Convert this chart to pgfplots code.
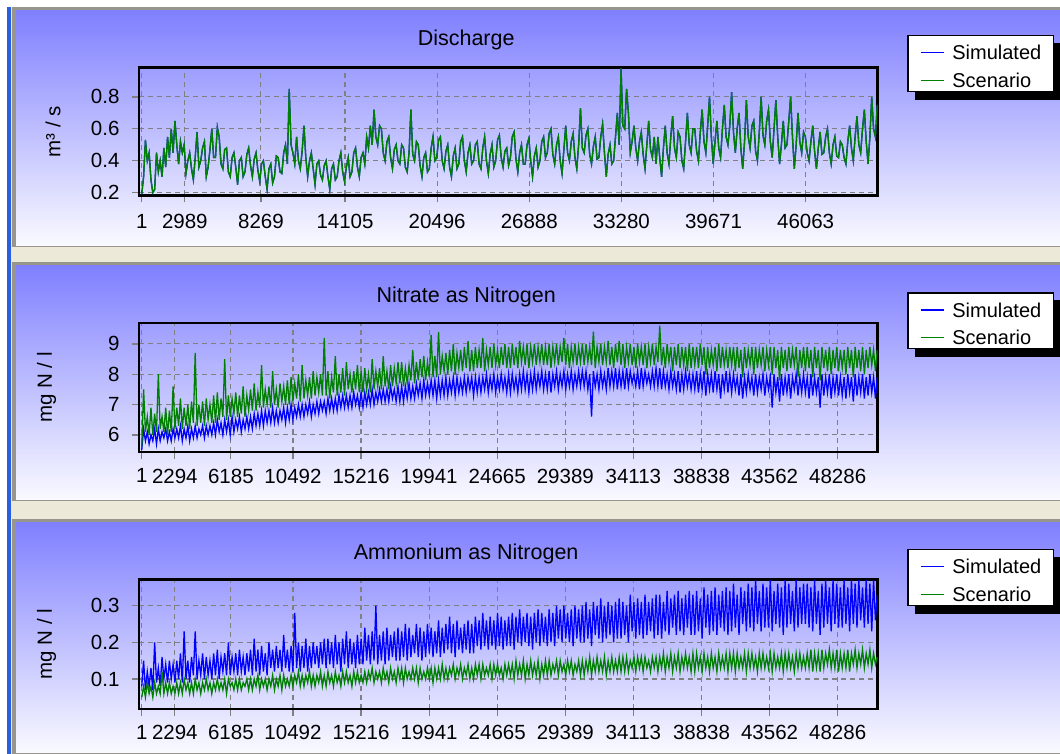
\documentclass[border=0pt]{standalone}
\usepackage{pgfplots}
\usepackage{pgfplotstable}
\usepackage{fontspec}
\setmainfont{Liberation Sans}
\pgfplotsset{compat=1.18}
\definecolor{ptop}{RGB}{128,128,255}
\definecolor{pbot}{RGB}{250,250,255}
\definecolor{sep}{RGB}{236,233,216}
\definecolor{bord}{RGB}{150,150,140}
\definecolor{winblue}{RGB}{40,95,225}
\definecolor{gridc}{RGB}{128,128,128}
\definecolor{simc}{RGB}{0,0,255}
\definecolor{scnc}{RGB}{0,128,0}
\newcommand{\fs}{\fontsize{20.5bp}{24bp}\selectfont}
\newcommand{\fl}{\fontsize{20bp}{24bp}\selectfont}
\newcommand{\ft}{\fontsize{21.5bp}{25bp}\selectfont}

\pgfplotstableread[row sep=\\]{
q\\
0.19\\0.30\\0.53\\0.40\\0.45\\0.28\\0.20\\0.22\\0.45\\0.33\\0.40\\0.30\\0.48\\0.36\\0.55\\0.42\\0.60\\0.45\\0.65\\0.50\\
0.38\\0.52\\0.45\\0.50\\0.32\\0.40\\0.45\\0.35\\0.28\\0.42\\0.58\\0.36\\0.40\\0.48\\0.52\\0.30\\0.36\\0.47\\0.60\\0.42\\
0.42\\0.61\\0.55\\0.38\\0.35\\0.47\\0.48\\0.33\\0.30\\0.42\\0.45\\0.36\\0.25\\0.40\\0.42\\0.30\\0.33\\0.44\\0.48\\0.37\\
0.30\\0.41\\0.45\\0.34\\0.27\\0.38\\0.40\\0.30\\0.22\\0.35\\0.38\\0.26\\0.30\\0.43\\0.42\\0.33\\0.32\\0.45\\0.50\\0.38\\
0.85\\0.50\\0.45\\0.38\\0.55\\0.40\\0.35\\0.46\\0.62\\0.42\\0.30\\0.40\\0.45\\0.35\\0.25\\0.38\\0.40\\0.31\\0.28\\0.37\\
0.40\\0.30\\0.22\\0.35\\0.38\\0.28\\0.30\\0.40\\0.45\\0.33\\0.27\\0.36\\0.42\\0.30\\0.33\\0.45\\0.48\\0.36\\0.30\\0.42\\
0.45\\0.38\\0.55\\0.48\\0.62\\0.50\\0.72\\0.55\\0.50\\0.62\\0.60\\0.45\\0.40\\0.52\\0.55\\0.42\\0.35\\0.47\\0.50\\0.40\\
0.38\\0.50\\0.48\\0.36\\0.33\\0.45\\0.72\\0.44\\0.40\\0.52\\0.50\\0.37\\0.30\\0.42\\0.45\\0.33\\0.35\\0.48\\0.55\\0.40\\
0.42\\0.53\\0.55\\0.40\\0.35\\0.46\\0.50\\0.36\\0.30\\0.43\\0.48\\0.35\\0.38\\0.52\\0.55\\0.40\\0.33\\0.45\\0.50\\0.38\\
0.40\\0.50\\0.52\\0.38\\0.35\\0.48\\0.55\\0.40\\0.32\\0.44\\0.50\\0.36\\0.40\\0.53\\0.56\\0.42\\0.36\\0.46\\0.48\\0.37\\
0.42\\0.55\\0.58\\0.41\\0.33\\0.45\\0.50\\0.38\\0.38\\0.50\\0.54\\0.40\\0.30\\0.43\\0.48\\0.36\\0.40\\0.52\\0.55\\0.42\\
0.45\\0.57\\0.60\\0.44\\0.38\\0.50\\0.55\\0.40\\0.32\\0.47\\0.62\\0.45\\0.40\\0.52\\0.57\\0.42\\0.35\\0.50\\0.73\\0.48\\
0.45\\0.56\\0.60\\0.44\\0.38\\0.49\\0.55\\0.41\\0.42\\0.55\\0.63\\0.45\\0.30\\0.44\\0.50\\0.38\\0.40\\0.55\\0.70\\0.50\\
0.98\\0.62\\0.60\\0.85\\0.70\\0.45\\0.52\\0.62\\0.48\\0.40\\0.52\\0.58\\0.44\\0.35\\0.50\\0.65\\0.47\\0.42\\0.55\\0.38\\
0.55\\0.42\\0.30\\0.48\\0.62\\0.45\\0.38\\0.55\\0.68\\0.48\\0.42\\0.58\\0.55\\0.40\\0.35\\0.52\\0.70\\0.50\\0.45\\0.60\\
0.60\\0.46\\0.40\\0.58\\0.72\\0.52\\0.45\\0.62\\0.80\\0.55\\0.38\\0.52\\0.65\\0.48\\0.42\\0.60\\0.75\\0.55\\0.50\\0.62\\
0.83\\0.58\\0.45\\0.60\\0.70\\0.48\\0.35\\0.52\\0.78\\0.55\\0.48\\0.62\\0.65\\0.46\\0.40\\0.58\\0.80\\0.56\\0.50\\0.65\\
0.72\\0.52\\0.42\\0.60\\0.78\\0.55\\0.38\\0.50\\0.65\\0.48\\0.50\\0.65\\0.80\\0.55\\0.35\\0.50\\0.70\\0.52\\0.45\\0.58\\
0.55\\0.45\\0.40\\0.52\\0.62\\0.46\\0.35\\0.48\\0.58\\0.44\\0.45\\0.55\\0.60\\0.45\\0.38\\0.50\\0.55\\0.43\\0.42\\0.52\\
0.50\\0.42\\0.38\\0.52\\0.62\\0.48\\0.40\\0.55\\0.68\\0.50\\0.45\\0.60\\0.72\\0.52\\0.38\\0.55\\0.80\\0.60\\0.55\\0.75\\
}\discharge

\pgfplotstableread[row sep=\\]{
sim scen\\
5.5 5.6\\6.2 7.5\\5.8 6.1\\6.1 6.6\\5.7 6.0\\6.0 6.9\\5.8 6.0\\6.2 6.7\\5.7 6.1\\6.2 8.0\\5.8 6.2\\6.1 6.6\\5.9 6.1\\6.2 6.9\\5.8 6.0\\6.1 6.8\\5.8 6.1\\6.2 7.6\\5.9 6.2\\6.2 6.9\\
5.9 6.3\\6.3 7.2\\5.8 6.2\\6.2 6.9\\5.9 6.3\\6.3 7.0\\5.8 6.2\\6.2 7.1\\5.9 6.4\\6.3 8.7\\5.9 6.3\\6.2 7.0\\6.0 6.4\\6.3 7.1\\5.9 6.3\\6.3 7.2\\6.0 6.5\\6.3 7.0\\6.0 6.4\\6.4 7.3\\
6.0 6.4\\6.5 7.4\\6.1 6.5\\6.4 7.2\\6.0 6.6\\6.5 8.5\\6.1 6.5\\6.5 7.3\\6.0 6.6\\6.6 7.2\\6.1 6.7\\6.5 7.4\\6.2 6.6\\6.6 7.3\\6.1 6.7\\6.5 7.6\\6.2 6.6\\6.6 7.3\\6.2 6.8\\6.6 7.5\\
6.2 6.8\\6.7 7.7\\6.3 6.8\\6.7 7.4\\6.3 6.9\\6.8 8.3\\6.3 6.9\\6.8 7.5\\6.4 7.0\\6.8 7.6\\6.4 6.9\\6.9 8.1\\6.4 7.0\\6.8 7.5\\6.4 6.9\\6.8 7.7\\6.5 7.1\\6.9 7.6\\6.4 7.0\\6.9 7.8\\
6.5 7.0\\7.0 7.9\\6.5 7.1\\6.9 7.7\\6.6 7.2\\7.0 8.0\\6.6 7.1\\7.0 8.3\\6.6 7.2\\7.0 7.8\\6.7 7.3\\7.1 7.9\\6.6 7.2\\7.0 8.1\\6.7 7.3\\7.1 7.9\\6.7 7.4\\7.1 8.0\\6.8 7.3\\7.1 9.2\\
6.7 7.3\\7.2 8.1\\6.8 7.2\\7.2 7.9\\6.8 7.4\\7.2 8.6\\6.8 7.3\\7.3 8.0\\6.9 7.4\\7.3 8.2\\6.9 7.3\\7.3 8.4\\6.9 7.5\\7.3 8.0\\6.9 7.4\\7.4 8.1\\7.0 7.5\\7.3 8.3\\6.9 7.4\\7.4 8.1\\
6.9 7.4\\7.4 8.2\\7.0 7.5\\7.4 8.0\\7.0 7.4\\7.5 8.5\\7.0 7.5\\7.4 8.1\\7.1 7.6\\7.5 8.2\\7.1 7.5\\7.5 8.6\\7.1 7.6\\7.5 8.1\\7.1 7.5\\7.6 8.3\\7.2 7.6\\7.5 8.2\\7.1 7.7\\7.6 8.4\\
7.1 7.7\\7.6 8.4\\7.1 7.6\\7.6 8.2\\7.2 7.7\\7.7 8.3\\7.2 7.8\\7.6 8.8\\7.2 7.7\\7.7 8.4\\7.3 7.8\\7.7 8.5\\7.2 7.9\\7.8 8.6\\7.3 7.8\\7.7 8.4\\7.3 7.9\\7.8 9.3\\7.3 7.9\\7.8 8.6\\
7.2 7.9\\7.8 9.4\\7.3 8.0\\7.8 8.6\\7.3 8.1\\7.9 8.7\\7.3 8.0\\7.8 8.8\\7.4 8.1\\7.9 9.0\\7.3 8.0\\7.9 8.7\\7.4 8.2\\7.8 8.8\\7.4 8.1\\7.9 8.9\\7.4 8.2\\7.9 9.1\\7.5 8.1\\7.9 8.8\\
7.3 8.1\\7.9 8.9\\7.4 8.2\\7.9 8.8\\7.4 8.2\\7.9 9.2\\7.5 8.1\\8.0 8.8\\7.4 8.3\\7.9 8.9\\7.5 8.2\\8.0 9.0\\7.4 8.3\\7.9 8.8\\7.5 8.2\\8.0 8.9\\7.5 8.3\\7.9 9.0\\7.4 8.2\\8.0 8.9\\
7.4 8.2\\8.0 9.0\\7.5 8.3\\7.9 8.9\\7.4 8.2\\8.0 9.1\\7.5 8.4\\8.1 8.9\\7.5 8.3\\8.0 9.0\\7.4 8.2\\8.0 8.9\\7.5 8.4\\8.1 9.0\\7.5 8.3\\8.0 8.9\\7.6 8.4\\8.1 9.0\\7.5 8.3\\8.0 8.9\\
7.5 8.3\\8.1 9.0\\7.4 8.2\\8.0 8.9\\7.6 8.4\\8.1 9.0\\7.5 8.3\\8.0 8.9\\7.6 8.4\\8.1 9.2\\7.5 8.3\\8.0 9.0\\7.6 8.2\\8.1 8.9\\7.5 8.4\\8.0 9.0\\7.6 8.3\\8.1 8.9\\7.6 8.4\\8.1 9.0\\
7.6 8.3\\8.1 9.0\\7.5 8.4\\8.0 8.9\\6.6 8.3\\8.1 9.4\\7.6 8.2\\8.0 8.9\\7.5 8.4\\8.1 9.0\\7.6 8.3\\8.0 8.9\\7.5 8.4\\8.2 9.1\\7.6 8.3\\8.1 8.9\\7.6 8.2\\8.2 9.0\\7.5 8.4\\8.1 9.1\\
7.6 8.3\\8.1 9.0\\7.5 8.2\\8.2 8.9\\7.6 8.4\\8.1 9.0\\7.7 8.3\\8.0 8.9\\7.6 8.2\\8.1 9.0\\7.5 8.4\\8.2 8.9\\7.6 8.3\\8.1 9.0\\7.7 8.2\\8.0 8.9\\7.6 8.4\\8.1 9.0\\7.6 8.3\\8.2 8.9\\
7.6 8.4\\8.2 9.6\\7.5 8.3\\8.1 8.9\\7.6 8.2\\8.0 9.0\\7.5 8.4\\8.1 8.9\\7.6 8.1\\8.0 8.9\\7.5 8.3\\8.1 9.0\\7.4 8.2\\8.0 8.9\\7.5 8.3\\8.1 8.9\\7.6 8.1\\8.0 9.0\\7.5 8.2\\8.0 8.9\\
7.5 8.3\\8.1 8.9\\7.4 8.2\\8.0 9.0\\7.5 8.3\\8.1 8.9\\7.3 8.0\\8.0 8.9\\7.5 8.2\\8.0 8.8\\7.4 8.3\\8.1 8.9\\7.5 8.1\\8.0 9.0\\7.2 8.2\\8.0 8.9\\7.5 8.3\\8.1 8.8\\7.4 8.2\\8.0 8.9\\
7.4 8.3\\8.0 8.9\\7.5 8.1\\7.9 8.9\\7.3 8.2\\8.0 8.8\\7.2 7.9\\7.9 8.9\\7.4 8.2\\8.0 8.8\\7.5 8.3\\7.9 8.9\\7.3 8.0\\8.0 8.9\\7.4 8.2\\7.9 8.8\\7.5 8.3\\8.0 8.9\\7.3 8.1\\7.9 8.8\\
7.5 8.3\\7.9 8.9\\6.9 8.0\\8.0 8.9\\7.4 8.2\\7.9 8.8\\7.1 7.8\\8.0 8.9\\7.3 8.2\\7.9 8.8\\7.4 8.1\\8.0 8.9\\7.2 8.2\\7.9 8.8\\7.5 8.3\\8.0 8.9\\7.3 7.9\\7.9 8.8\\7.4 8.2\\8.0 8.9\\
7.4 8.1\\7.9 8.9\\7.2 8.2\\8.0 8.8\\7.3 7.9\\7.9 8.9\\7.4 8.2\\7.9 8.8\\6.9 7.8\\8.0 8.9\\7.3 8.2\\7.9 8.8\\7.4 8.1\\8.0 8.9\\7.2 8.0\\7.9 8.8\\7.4 8.2\\8.0 8.9\\7.3 8.1\\7.9 8.8\\
7.3 8.2\\7.9 8.8\\7.2 8.0\\8.0 8.9\\7.4 8.2\\7.9 8.8\\7.1 7.9\\8.0 8.9\\7.3 8.2\\7.9 8.8\\7.4 8.1\\8.0 8.9\\7.2 8.0\\7.9 8.8\\7.3 8.2\\8.0 8.9\\7.4 8.3\\7.9 8.8\\7.2 8.1\\7.9 8.8\\
}\nitrate

\pgfplotstableread[row sep=\\]{
sim scen\\
0.08 0.05\\0.15 0.08\\0.07 0.05\\0.12 0.09\\0.08 0.06\\0.13 0.08\\0.07 0.05\\0.20 0.09\\0.09 0.06\\0.13 0.08\\0.08 0.06\\0.16 0.12\\0.10 0.06\\0.14 0.09\\0.09 0.06\\0.15 0.09\\0.10 0.06\\0.14 0.08\\0.09 0.06\\0.15 0.09\\
0.10 0.06\\0.17 0.09\\0.09 0.06\\0.23 0.10\\0.10 0.07\\0.15 0.09\\0.09 0.06\\0.16 0.09\\0.11 0.06\\0.23 0.10\\0.10 0.07\\0.15 0.09\\0.11 0.06\\0.17 0.09\\0.10 0.07\\0.16 0.10\\0.11 0.07\\0.15 0.09\\0.10 0.06\\0.17 0.09\\
0.11 0.07\\0.18 0.10\\0.10 0.07\\0.16 0.09\\0.12 0.07\\0.17 0.10\\0.11 0.06\\0.20 0.10\\0.11 0.08\\0.16 0.09\\0.12 0.07\\0.17 0.10\\0.11 0.07\\0.18 0.10\\0.12 0.07\\0.16 0.09\\0.11 0.08\\0.17 0.10\\0.12 0.07\\0.18 0.10\\
0.11 0.07\\0.21 0.10\\0.12 0.08\\0.18 0.11\\0.11 0.07\\0.19 0.10\\0.12 0.08\\0.17 0.10\\0.11 0.07\\0.20 0.10\\0.13 0.08\\0.18 0.11\\0.12 0.07\\0.19 0.10\\0.13 0.08\\0.18 0.11\\0.12 0.07\\0.22 0.11\\0.13 0.08\\0.18 0.10\\
0.12 0.08\\0.19 0.11\\0.12 0.08\\0.28 0.11\\0.13 0.09\\0.20 0.12\\0.12 0.08\\0.19 0.11\\0.13 0.08\\0.21 0.11\\0.12 0.09\\0.19 0.12\\0.13 0.08\\0.20 0.11\\0.14 0.08\\0.19 0.11\\0.13 0.09\\0.20 0.12\\0.14 0.08\\0.21 0.11\\
0.13 0.08\\0.21 0.12\\0.14 0.09\\0.20 0.11\\0.13 0.08\\0.22 0.12\\0.14 0.09\\0.20 0.11\\0.12 0.08\\0.21 0.12\\0.14 0.09\\0.23 0.12\\0.13 0.09\\0.21 0.11\\0.14 0.08\\0.20 0.12\\0.13 0.09\\0.22 0.12\\0.14 0.09\\0.21 0.11\\
0.14 0.09\\0.24 0.12\\0.15 0.09\\0.22 0.12\\0.14 0.10\\0.23 0.13\\0.15 0.09\\0.30 0.12\\0.14 0.10\\0.22 0.12\\0.15 0.09\\0.23 0.13\\0.14 0.10\\0.24 0.12\\0.15 0.09\\0.22 0.13\\0.16 0.10\\0.23 0.12\\0.15 0.09\\0.24 0.13\\
0.15 0.10\\0.23 0.13\\0.16 0.09\\0.25 0.13\\0.15 0.10\\0.24 0.12\\0.16 0.10\\0.22 0.13\\0.17 0.10\\0.25 0.13\\0.16 0.09\\0.24 0.13\\0.15 0.10\\0.23 0.12\\0.16 0.10\\0.25 0.13\\0.17 0.10\\0.24 0.13\\0.16 0.09\\0.23 0.13\\
0.17 0.10\\0.26 0.13\\0.16 0.10\\0.24 0.14\\0.17 0.10\\0.25 0.13\\0.18 0.10\\0.27 0.13\\0.17 0.11\\0.25 0.14\\0.16 0.10\\0.26 0.13\\0.18 0.11\\0.24 0.14\\0.17 0.10\\0.25 0.13\\0.18 0.11\\0.26 0.14\\0.17 0.10\\0.25 0.13\\
0.17 0.10\\0.27 0.14\\0.19 0.11\\0.26 0.14\\0.18 0.10\\0.28 0.14\\0.19 0.11\\0.26 0.13\\0.18 0.11\\0.27 0.14\\0.19 0.10\\0.26 0.14\\0.18 0.11\\0.28 0.14\\0.19 0.11\\0.27 0.13\\0.18 0.10\\0.26 0.14\\0.19 0.11\\0.27 0.14\\
0.19 0.11\\0.28 0.14\\0.18 0.10\\0.27 0.15\\0.20 0.11\\0.29 0.14\\0.19 0.11\\0.27 0.15\\0.20 0.10\\0.28 0.14\\0.19 0.11\\0.27 0.15\\0.18 0.11\\0.28 0.14\\0.20 0.11\\0.29 0.15\\0.19 0.10\\0.28 0.14\\0.20 0.11\\0.27 0.15\\
0.19 0.11\\0.29 0.15\\0.20 0.11\\0.28 0.14\\0.19 0.12\\0.30 0.15\\0.21 0.11\\0.29 0.15\\0.20 0.12\\0.30 0.14\\0.21 0.11\\0.28 0.15\\0.20 0.12\\0.29 0.15\\0.19 0.11\\0.30 0.14\\0.21 0.12\\0.29 0.15\\0.20 0.11\\0.30 0.15\\
0.20 0.11\\0.31 0.15\\0.21 0.12\\0.29 0.16\\0.19 0.11\\0.31 0.15\\0.22 0.12\\0.30 0.16\\0.21 0.12\\0.32 0.15\\0.20 0.12\\0.30 0.16\\0.21 0.11\\0.31 0.15\\0.22 0.12\\0.30 0.16\\0.20 0.12\\0.31 0.15\\0.21 0.12\\0.32 0.16\\
0.21 0.12\\0.31 0.16\\0.22 0.12\\0.30 0.16\\0.20 0.12\\0.33 0.15\\0.23 0.13\\0.31 0.16\\0.21 0.12\\0.32 0.16\\0.22 0.13\\0.31 0.16\\0.21 0.12\\0.33 0.16\\0.22 0.13\\0.31 0.15\\0.23 0.12\\0.32 0.16\\0.21 0.13\\0.33 0.16\\
0.22 0.12\\0.33 0.16\\0.21 0.13\\0.31 0.17\\0.23 0.12\\0.34 0.16\\0.22 0.13\\0.32 0.17\\0.24 0.12\\0.33 0.16\\0.22 0.13\\0.34 0.17\\0.23 0.12\\0.32 0.16\\0.22 0.13\\0.33 0.17\\0.24 0.13\\0.34 0.16\\0.22 0.12\\0.33 0.17\\
0.22 0.12\\0.34 0.17\\0.23 0.13\\0.32 0.16\\0.21 0.12\\0.35 0.17\\0.24 0.13\\0.33 0.16\\0.22 0.12\\0.34 0.17\\0.23 0.13\\0.35 0.16\\0.22 0.12\\0.33 0.17\\0.24 0.13\\0.34 0.16\\0.23 0.13\\0.35 0.17\\0.22 0.12\\0.34 0.17\\
0.23 0.13\\0.36 0.17\\0.24 0.12\\0.33 0.17\\0.22 0.13\\0.35 0.16\\0.25 0.13\\0.34 0.17\\0.23 0.12\\0.36 0.17\\0.24 0.13\\0.35 0.17\\0.23 0.13\\0.37 0.16\\0.25 0.12\\0.34 0.17\\0.23 0.13\\0.36 0.17\\0.24 0.13\\0.35 0.16\\
0.24 0.13\\0.37 0.17\\0.23 0.12\\0.34 0.17\\0.25 0.13\\0.36 0.16\\0.24 0.13\\0.35 0.17\\0.22 0.12\\0.37 0.17\\0.24 0.13\\0.36 0.17\\0.25 0.13\\0.34 0.16\\0.23 0.12\\0.37 0.17\\0.24 0.13\\0.35 0.17\\0.25 0.13\\0.36 0.16\\
0.25 0.13\\0.36 0.17\\0.24 0.13\\0.35 0.18\\0.23 0.12\\0.37 0.17\\0.25 0.13\\0.34 0.17\\0.22 0.12\\0.36 0.18\\0.24 0.13\\0.37 0.17\\0.25 0.14\\0.35 0.18\\0.23 0.13\\0.37 0.17\\0.25 0.13\\0.36 0.18\\0.24 0.12\\0.35 0.17\\
0.24 0.13\\0.37 0.17\\0.25 0.13\\0.35 0.18\\0.23 0.12\\0.37 0.17\\0.25 0.14\\0.36 0.18\\0.24 0.13\\0.37 0.17\\0.26 0.14\\0.35 0.18\\0.24 0.13\\0.37 0.17\\0.25 0.14\\0.36 0.18\\0.23 0.13\\0.37 0.17\\0.26 0.14\\0.33 0.16\\
}\ammonium

\pgfplotsset{
  legend image code/.code={\draw[#1] (0bp,7bp) -- (23bp,7bp);},
  panel/.style={
    scale only axis, width=738.5bp,
    xmin=-190, xmax=51050,
    scaled x ticks=false, scaled y ticks=false,
    no markers,
    axis line style={black, line width=2.5bp},
    grid=major,
    grid style={gridc, line width=1.1bp, dash pattern=on 5bp off 4bp},
    tick align=outside, tickpos=left,
    major tick length=7bp,
    tick style={gridc, line width=1.2bp},
    tick label style={font=\fs},
    xticklabel style={yshift=-6bp},
    yticklabel style={xshift=-9bp},
    /pgf/number format/assume math mode=true,
    title style={font=\ft, at={(axis description cs:0.443,1)}, anchor=base},
    every axis y label/.style={font=\fs, rotate=90, anchor=center},
    legend style={anchor=north west, draw=black, line width=1.5bp, fill=white,
      font=\fl, nodes={inner sep=0bp, anchor=base west, text height=20bp, text depth=0bp},
      inner xsep=12bp, inner ysep=4bp, row sep=7.7bp,
      /tikz/every odd column/.append style={column sep=8bp}},
  },
  simline/.style={simc, line width=1.3bp},
  scnline/.style={scnc, line width=1.3bp},
}
\newcommand{\legshadow}[1]{%
  \fill[black] ([yshift=-8bp]#1.north east) rectangle ([xshift=8bp,yshift=-8bp]#1.south east);
  \fill[black] ([xshift=8bp]#1.south west) rectangle ([xshift=8bp,yshift=-8bp]#1.south east);}

\begin{document}
\begin{tikzpicture}[x=1bp,y=1bp]
\useasboundingbox (0,0) rectangle (1060,754);
\clip (0,0) rectangle (1060,754);
\fill[white] (0,0) rectangle (1060,754);
\fill[sep] (11,0) rectangle (1060,747);
\fill[winblue] (7,0) rectangle (11,747);
\foreach \yb/\yt in {507/747, 253/492, 0/235} {
  \fill[bord] (12,\yb) rectangle (1060,\yt);
  \shade[top color=ptop, bottom color=pbot] (16,\yb+1) rectangle (1060,\yt-4);
}
% Discharge
\begin{axis}[panel, at={(139bp,558.6bp)}, anchor=south west, height=127.8bp,
  ymin=0.183, ymax=0.984,
  ytick={0.2,0.4,0.6,0.8}, yticklabels={0.2,0.4,0.6,0.8},
  xtick={1,2989,8269,14105,20496,26888,33280,39671,46063},
  xticklabels={1,2989,8269,14105,20496,26888,33280,39671,46063},
  xticklabel style={yshift=-2bp},
  title={Discharge}, title style={yshift=16bp},
  ylabel={m³ / s}, ylabel style={at={(axis description cs:-0.1165,0.5)}},
  legend style={at={(axis description cs:1.0403,1.255)}, name=LA}]
\addplot[simline] table[x expr=\coordindex*127.9+1, y=q] {\discharge};
\addlegendentry{Simulated}
\addplot[scnline] table[x expr=\coordindex*127.9+1, y=q] {\discharge};
\addlegendentry{Scenario}
\end{axis}
% Nitrate
\begin{axis}[panel, at={(139bp,301.8bp)}, anchor=south west, height=129.2bp,
  ymin=5.43, ymax=9.69,
  ytick={6,7,8,9}, yticklabels={6,7,8,9},
  xtick={1,2294,6185,10492,15216,19941,24665,29389,34113,38838,43562,48286},
  xticklabels={1,2294,6185,10492,15216,19941,24665,29389,34113,38838,43562,48286},
  title={Nitrate as Nitrogen}, title style={yshift=15bp},
  ylabel={mg N / l}, ylabel style={at={(axis description cs:-0.1253,0.5)}},
  legend style={at={(axis description cs:1.0403,1.2376)}, name=LB}]
\addplot[simline] table[x expr=\coordindex*127.9+1, y=sim] {\nitrate};
\addlegendentry{Simulated}
\addplot[scnline] table[x expr=\coordindex*127.9+1, y=scen] {\nitrate};
\addlegendentry{Scenario}
\end{axis}
% Ammonium
\begin{axis}[panel, at={(139bp,45.2bp)}, anchor=south west, height=129.2bp,
  ymin=0.0187, ymax=0.371,
  ytick={0.1,0.2,0.3}, yticklabels={0.1,0.2,0.3},
  xtick={1,2294,6185,10492,15216,19941,24665,29389,34113,38838,43562,48286},
  xticklabels={1,2294,6185,10492,15216,19941,24665,29389,34113,38838,43562,48286},
  title={Ammonium as Nitrogen}, title style={yshift=14.6bp},
  ylabel={mg N / l}, ylabel style={at={(axis description cs:-0.1253,0.5)}},
  legend style={at={(axis description cs:1.0403,1.2376)}, name=LC}]
\addplot[simline] table[x expr=\coordindex*127.9+1, y=sim] {\ammonium};
\addlegendentry{Simulated}
\addplot[scnline] table[x expr=\coordindex*127.9+1, y=scen] {\ammonium};
\addlegendentry{Scenario}
\end{axis}
\legshadow{LA}
\legshadow{LB}
\legshadow{LC}
\end{tikzpicture}
\end{document}
